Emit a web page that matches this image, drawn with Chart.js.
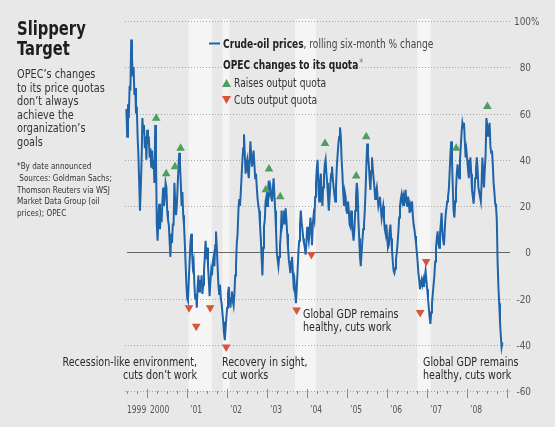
<!DOCTYPE html>
<html>
<head>
<meta charset="utf-8">
<title>Slippery Target</title>
<script src="https://cdn.jsdelivr.net/npm/chart.js@4"></script>
<style>
  html, body { margin: 0; padding: 0; background: #e8e8e8; }
  #wrap { width: 555px; height: 427px; }
</style>
</head>
<body>
<div id="wrap"><canvas id="oilChart" width="555" height="427"></canvas></div>
<script>
// Crude-oil prices, rolling six-month % change, roughly weekly from mid-1999
const startYear = 1999.485;
const stepYears = 0.02;
const pctChange = [
  62, 50, 64, 58, 72, 70, 92, 84, 76, 80, 68, 71, 60, 63, 50, 42, 30, 18, 28, 40,
  58, 52, 55, 45, 50, 40, 53, 47, 50, 41, 45, 37, 44, 36, 40, 30, 55, 40, 12, 5,
  15, 21, 10, 18, 13, 22, 28, 20, 24, 30, 28, 18, 14, 12, 5, -2, 8, 4, 12, 12,
  30, 22, 16, 20, 28, 36, 43, 38, 30, 20, 26, 16, 12, 4, -5, -14, -20, -21, -12, -4,
  4, 8, 0, -6, -4, -14, -20, -18, -24, -15, -10, -17, -12, -15, -10, -18, -14, -8, -2, 5,
  -3, 2, -6, -12, -19, -13, -8, -10, -4, -2, -6, 3, 9, 2, -6, -14, -18, -14, -20, -22,
  -26, -30, -35, -38, -33, -28, -24, -18, -15, -20, -24, -20, -17, -21, -23, -18, -10, -6, 4, 8,
  18, 23, 20, 26, 33, 40, 45, 51, 42, 34, 38, 40, 35, 32, 40, 48, 42, 37, 40, 44,
  38, 32, 34, 28, 23, 20, 18, 12, 6, -2, -10, 2, 11, 14, 22, 24, 20, 26, 31, 26,
  28, 24, 22, 27, 32, 25, 18, 10, 0, -3, -6, -2, 3, 8, 18, 12, 14, 18, 12, 19,
  14, 8, 2, -3, -6, -9, -4, -2, -8, -14, -12, -18, -22, -15, -8, 0, 5, 12, 18, 13,
  10, 6, 4, 2, -1, 4, 11, 8, 5, 9, 15, 11, 3, 12, 16, 14, 24, 30, 36, 40,
  28, 22, 30, 34, 26, 20, 28, 33, 38, 40, 34, 30, 24, 18, 24, 30, 34, 37, 32, 28,
  25, 22, 28, 37, 42, 47, 50, 54, 50, 40, 34, 26, 20, 26, 24, 18, 17, 22, 18, 12,
  11, 18, 14, 8, 5, 10, 18, 24, 30, 26, 14, 6, -2, -6, 0, 5, 10, 12, 18, 27,
  38, 47, 42, 38, 32, 27, 35, 41, 36, 32, 28, 23, 26, 28, 24, 20, 22, 24, 19, 15,
  18, 20, 14, 10, 8, 12, 6, 2, 3, 9, 12, 6, 1, -4, -8, -9, -7, -3, 0, 4,
  9, 15, 20, 23, 25, 22, 24, 20, 24, 27, 22, 20, 24, 22, 17, 20, 18, 22, 16, 12,
  10, 7, 4, 0, -4, -9, -12, -16, -14, -12, -14, -12, -15, -11, -8, -12, -16, -20, -24, -28,
  -31, -26, -22, -18, -14, -10, -4, 2, 6, 9, 4, 2, 8, 12, 17, 8, 5, 3, 10, 16,
  19, 22, 24, 27, 34, 42, 48, 40, 28, 18, 15, 22, 27, 34, 38, 34, 32, 40, 46, 52,
  56, 54, 56, 48, 41, 44, 40, 36, 32, 38, 41, 34, 27, 24, 21, 26, 32, 36, 41, 36,
  28, 26, 24, 22, 30, 41, 34, 28, 36, 42, 58, 55, 50, 52, 56, 46, 43, 44, 38, 30,
  26, 21, 20, 14, -4, -15, -22, -30, -36, -41, -39
];

// OPEC quota decisions (date announced, marker level)
const raiseDates = [2000.23, 2000.48, 2000.70, 2000.84, 2002.97, 2003.05, 2003.33, 2004.45, 2005.23, 2005.48, 2007.73, 2008.51];
const raiseLevels = [58, 34, 37, 45, 27, 36, 24, 47, 33, 50, 45, 63];
const cutDates = [2001.05, 2001.23, 2001.58, 2001.98, 2003.74, 2004.11, 2006.83, 2006.98];
const cutLevels = [-24, -32, -24, -41, -25, -1, -26, -4];

// shaded periods
const bandStarts = [2001.04, 2001.89, 2003.70, 2006.76];
const bandEnds = [2001.62, 2002.06, 2004.22, 2007.09];

const yTicks = [100, 80, 60, 40, 20, 0, -20, -40, -60];
const yearLabels = ['1999', '2000', "\u201901", "\u201902", "\u201903", "\u201904", "\u201905", "\u201906", "\u201907", "\u201908"];
const yearLabelAt = [1999.5, 2000, 2001, 2002, 2003, 2004, 2005, 2006, 2007, 2008];

const BG = '#e8e8e8';
const BAND = '#f5f5f5';
const BLUE = '#1f63a8';
const GREEN = '#4f9e5f';
const RED = '#d8553e';
const NARROW = '"Liberation Sans Narrow", "DejaVu Sans Condensed", Roboto, sans-serif';
const SQUEEZE = 0.85;

const oilPoints = pctChange.map((v, i) => ({ x: startYear + i * stepYears, y: v }));
const raisePoints = raiseDates.map((d, i) => ({ x: d, y: raiseLevels[i] }));
const cutPoints = cutDates.map((d, i) => ({ x: d, y: cutLevels[i] }));

// draw text squeezed horizontally, returns drawn width
function narrowText(ctx, s, x, y, align, sx) {
  sx = sx || SQUEEZE;
  ctx.save();
  ctx.translate(x, y);
  ctx.scale(sx, 1);
  ctx.textAlign = align || 'left';
  ctx.fillText(s, 0, 0);
  const w = ctx.measureText(s).width * sx;
  ctx.restore();
  return w;
}

// background, bands, grid and axis drawn under the data
const backdrop = {
  id: 'backdrop',
  beforeDraw(chart) {
    const ctx = chart.ctx;
    ctx.save();
    ctx.fillStyle = BG;
    ctx.fillRect(0, 0, chart.width, chart.height);
    ctx.restore();
  },
  beforeDatasetsDraw(chart) {
    const { ctx, chartArea: a, scales: { x, y } } = chart;
    ctx.save();
    ctx.fillStyle = BAND;
    bandStarts.forEach((s, i) => {
      const x0 = x.getPixelForValue(s), x1 = x.getPixelForValue(bandEnds[i]);
      ctx.fillRect(x0, a.top - 2, x1 - x0, a.bottom - a.top + 2);
    });

    // dotted grid
    ctx.strokeStyle = '#a8a8a8';
    ctx.lineWidth = 1;
    ctx.setLineDash([1, 2]);
    yTicks.forEach(t => {
      if (t === 0) return;
      const py = Math.round(y.getPixelForValue(t)) + 0.5;
      ctx.beginPath();
      ctx.moveTo(a.left, py);
      ctx.lineTo(a.right, py);
      ctx.stroke();
    });
    ctx.setLineDash([]);

    // zero line
    ctx.strokeStyle = '#666';
    const zy = Math.round(y.getPixelForValue(0)) + 0.5;
    ctx.beginPath();
    ctx.moveTo(a.left + 2, zy);
    ctx.lineTo(a.right, zy);
    ctx.stroke();

    // quarterly ticks on the bottom line
    ctx.strokeStyle = '#8a8a8a';
    const by = Math.round(y.getPixelForValue(-60));
    for (let q = 1999.5; q <= 2009.001; q += 0.25) {
      const px = Math.round(x.getPixelForValue(q)) + 0.5;
      const major = Math.abs(q - Math.round(q)) < 0.01;
      ctx.beginPath();
      ctx.moveTo(px, major ? by - 2 : by);
      ctx.lineTo(px, major ? by + 7 : by + 3);
      ctx.stroke();
    }
    ctx.restore();
  },
  afterDraw(chart) {
    const { ctx, scales: { x, y } } = chart;
    ctx.save();
    ctx.textBaseline = 'alphabetic';

    // y tick labels on the right
    ctx.fillStyle = '#555';
    ctx.font = '11px ' + NARROW;
    yTicks.forEach(t => {
      const py = y.getPixelForValue(t) + 4;
      narrowText(ctx, String(t), 531, py, 'right', 0.9);
      if (t === 100) narrowText(ctx, '%', 531, py, 'left', 0.9);
    });

    // year labels
    ctx.font = '10.5px ' + NARROW;
    yearLabels.forEach((lab, i) => {
      const px = x.getPixelForValue(yearLabelAt[i]) + (i === 0 ? 0 : 3);
      narrowText(ctx, lab, px, 413, 'left', 0.8);
    });

    // title and notes
    ctx.fillStyle = '#1e1e1e';
    ctx.font = 'bold 20px ' + NARROW;
    narrowText(ctx, 'Slippery', 17, 35, 'left', 0.82);
    narrowText(ctx, 'Target', 17, 55, 'left', 0.82);

    ctx.fillStyle = '#333';
    ctx.font = '13px ' + NARROW;
    ['OPEC\u2019s changes', 'to its price quotas', 'don\u2019t always', 'achieve the', 'organization\u2019s', 'goals']
      .forEach((s, i) => narrowText(ctx, s, 17, 78 + i * 13.6, 'left', 0.83));

    ctx.font = '9.5px ' + NARROW;
    ['*By date announced', ' Sources: Goldman Sachs;', 'Thomson Reuters via WSJ', 'Market Data Group (oil', 'prices); OPEC']
      .forEach((s, i) => narrowText(ctx, s, 17, 169 + i * 11.8));

    // legend
    ctx.strokeStyle = BLUE;
    ctx.lineWidth = 2;
    ctx.beginPath();
    ctx.moveTo(209, 43.5);
    ctx.lineTo(220, 43.5);
    ctx.stroke();
    ctx.fillStyle = '#222';
    ctx.font = 'bold 12px ' + NARROW;
    const w = narrowText(ctx, 'Crude-oil prices', 223, 48, 'left', 0.84);
    ctx.font = '12px ' + NARROW;
    ctx.fillStyle = '#444';
    narrowText(ctx, ', rolling six-month % change', 223 + w, 48, 'left', 0.84);
    ctx.fillStyle = '#222';
    ctx.font = 'bold 12px ' + NARROW;
    const w2 = narrowText(ctx, 'OPEC changes to its quota', 223, 69, 'left', 0.84);
    ctx.font = '10px ' + NARROW;
    ctx.fillStyle = '#777';
    narrowText(ctx, '*', 224 + w2, 66);

    ctx.fillStyle = GREEN;
    ctx.beginPath();
    ctx.moveTo(226.5, 79); ctx.lineTo(231, 87); ctx.lineTo(222, 87); ctx.closePath();
    ctx.fill();
    ctx.fillStyle = RED;
    ctx.beginPath();
    ctx.moveTo(222, 96); ctx.lineTo(231, 96); ctx.lineTo(226.5, 104); ctx.closePath();
    ctx.fill();
    ctx.fillStyle = '#333';
    ctx.font = '12px ' + NARROW;
    narrowText(ctx, 'Raises output quota', 234, 87);
    narrowText(ctx, 'Cuts output quota', 234, 104);

    // annotations
    ctx.font = '12.5px ' + NARROW;
    ctx.fillStyle = '#2a2a2a';
    narrowText(ctx, 'Recession-like environment,', 197, 366, 'right');
    narrowText(ctx, 'cuts don\u2019t work', 197, 379, 'right');
    narrowText(ctx, 'Recovery in sight,', 222, 366);
    narrowText(ctx, 'cut works', 222, 379);
    narrowText(ctx, 'Global GDP remains', 423, 366);
    narrowText(ctx, 'healthy, cuts work', 423, 379);
    narrowText(ctx, 'Global GDP remains', 303, 318);
    narrowText(ctx, 'healthy, cuts work', 303, 331);
    ctx.restore();
  }
};

new Chart(document.getElementById('oilChart').getContext('2d'), {
  type: 'scatter',
  data: {
    datasets: [
      {
        label: 'Raises output quota',
        data: raisePoints,
        pointStyle: 'triangle',
        pointRadius: 5,
        backgroundColor: GREEN,
        borderColor: GREEN,
        borderWidth: 0,
        order: 0
      },
      {
        label: 'Cuts output quota',
        data: cutPoints,
        pointStyle: 'triangle',
        rotation: 180,
        pointRadius: 5,
        backgroundColor: RED,
        borderColor: RED,
        borderWidth: 0,
        order: 0
      },
      {
        label: 'Crude-oil prices',
        data: oilPoints,
        showLine: true,
        borderColor: BLUE,
        borderWidth: 2,
        pointRadius: 0,
        tension: 0,
        order: 1
      }
    ]
  },
  plugins: [backdrop],
  options: {
    responsive: false,
    animation: false,
    events: [],
    layout: { padding: { left: 125, right: 45, top: 21, bottom: 36 } },
    plugins: { legend: { display: false }, tooltip: { enabled: false } },
    scales: {
      x: { type: 'linear', min: 1999.45, max: 2009.075, display: false },
      y: { type: 'linear', min: -60, max: 100, display: false }
    }
  }
});
</script>
</body>
</html>
